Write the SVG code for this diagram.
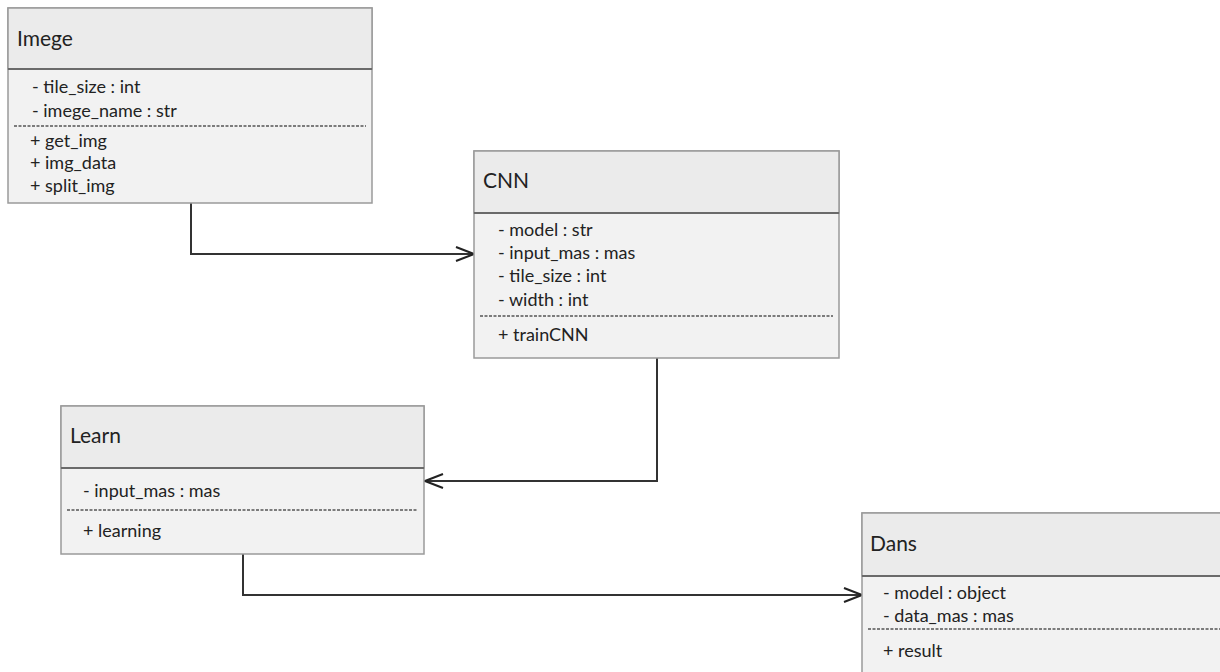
<svg xmlns="http://www.w3.org/2000/svg" width="1220" height="672" viewBox="0 0 1220 672">
<style>
.box{fill:#f2f2f2;stroke:#9a9a9a;stroke-width:1.5}
.hdr{fill:#ebebeb;stroke:#9a9a9a;stroke-width:1.5}
.div{stroke:#6a6a6a;stroke-width:2}
.dash{stroke:#555;stroke-width:1.5;stroke-dasharray:3 1.5}
.title{font-family:Lato,"Liberation Sans",sans-serif;font-size:21px;fill:#222}
.item{font-family:Lato,"Liberation Sans",sans-serif;font-size:18px;fill:#222}
.conn{fill:none;stroke:#333;stroke-width:2}
</style>
<defs>
<marker id="open" markerWidth="20" markerHeight="18" refX="19" refY="9" orient="auto" markerUnits="userSpaceOnUse">
<path d="M1,2 L19,9 L1,16" fill="none" stroke="#222" stroke-width="2"/>
</marker>
</defs>
<rect width="1220" height="672" fill="#fff"/>
<g id="connectors">
<path class="conn" d="M191,203 V254 H474" marker-end="url(#open)"/>
<path class="conn" d="M657,358 V481 H425" marker-end="url(#open)"/>
<path class="conn" d="M243,554 V595 H862" marker-end="url(#open)"/>
</g>
<g id="imege">
<rect class="box" x="8" y="8" width="364" height="195"/>
<rect class="hdr" x="8" y="8" width="364" height="61"/>
<line class="div" x1="8" y1="69" x2="372" y2="69"/>
<text class="title" x="17" y="46">Imege</text>
<text class="item" x="32" y="93">- tile_size : int</text>
<text class="item" x="32" y="117">- imege_name : str</text>
<line class="dash" x1="14" y1="126" x2="366" y2="126"/>
<text class="item" x="30" y="147">+ get_img</text>
<text class="item" x="30" y="169">+ img_data</text>
<text class="item" x="30" y="192">+ split_img</text>
</g>
<g id="cnn">
<rect class="box" x="474" y="151" width="365" height="207"/>
<rect class="hdr" x="474" y="151" width="365" height="62"/>
<line class="div" x1="474" y1="213" x2="839" y2="213"/>
<text class="title" x="483" y="188">CNN</text>
<text class="item" x="498" y="236">- model : str</text>
<text class="item" x="498" y="259">- input_mas : mas</text>
<text class="item" x="498" y="282">- tile_size : int</text>
<text class="item" x="498" y="306">- width : int</text>
<line class="dash" x1="480" y1="316" x2="833" y2="316"/>
<text class="item" x="498" y="341">+ trainCNN</text>
</g>
<g id="learn">
<rect class="box" x="61" y="406" width="363" height="148"/>
<rect class="hdr" x="61" y="406" width="363" height="62"/>
<line class="div" x1="61" y1="468" x2="424" y2="468"/>
<text class="title" x="70" y="443">Learn</text>
<text class="item" x="83" y="497">- input_mas : mas</text>
<line class="dash" x1="67" y1="510" x2="418" y2="510"/>
<text class="item" x="83" y="537">+ learning</text>
</g>
<g id="dans">
<rect class="box" x="862" y="513" width="380" height="200"/>
<rect class="hdr" x="862" y="513" width="380" height="63"/>
<line class="div" x1="862" y1="576" x2="1242" y2="576"/>
<text class="title" x="870" y="551">Dans</text>
<text class="item" x="883" y="599">- model : object</text>
<text class="item" x="883" y="622">- data_mas : mas</text>
<line class="dash" x1="868" y1="629" x2="1220" y2="629"/>
<text class="item" x="883" y="657">+ result</text>
</g>
</svg>
